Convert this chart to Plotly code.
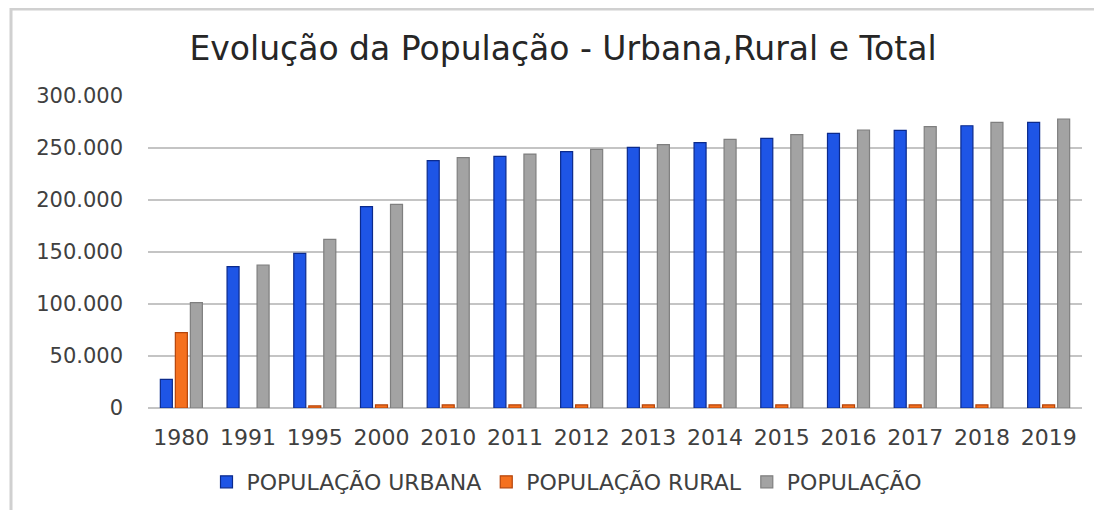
import plotly.graph_objects as go

anos = ["1980", "1991", "1995", "2000", "2010", "2011", "2012", "2013",
        "2014", "2015", "2016", "2017", "2018", "2019"]
pop_urbana = [27600, 136000, 148700, 193600, 237800, 242000, 246500, 250600,
              255100, 259300, 264100, 267000, 271400, 274700]
pop_rural = [72400, None, 2000, 3000, 3000, 3000, 3000, 3000,
             3000, 3000, 3000, 3000, 3000, 3000]
pop_total = [101300, 137500, 162200, 195800, 240700, 244200, 248700, 253200,
             258300, 262800, 267300, 270500, 274700, 277900]
y_ticks = [0, 50000, 100000, 150000, 200000, 250000, 300000]

FONT = "DejaVu Sans"
TXT = "#404040"

fig = go.Figure()
fig.add_trace(go.Bar(name="POPULAÇÃO URBANA", x=anos, y=pop_urbana,
                     marker=dict(color="#1E55E6", line=dict(color="#0B2A8C", width=1.2))))
fig.add_trace(go.Bar(name="POPULAÇÃO RURAL", x=anos, y=pop_rural,
                     marker=dict(color="#F5701E", line=dict(color="#B5440A", width=1.2))))
fig.add_trace(go.Bar(name="POPULAÇÃO", x=anos, y=pop_total,
                     marker=dict(color="#A3A3A3", line=dict(color="#7F7F7F", width=1.2))))

OFF = 8  # page body margin
W, H = 1102 - OFF, 510 - OFF
L, T = 148 - OFF, 96 - OFF
R = W - (1082 - OFF)
B = H - (408 - OFF)
pw, ph = W - L - R, H - T - B

fig.update_layout(
    width=W, height=H,
    margin=dict(l=L, r=R, t=T, b=B, autoexpand=False),
    paper_bgcolor="white", plot_bgcolor="white",
    barmode="group", bargap=0.325, bargroupgap=0.2,
    separators=",.",
    font=dict(family=FONT, color=TXT),
    title=dict(text="Evolução da População - Urbana,Rural e Total",
               x=(563 - OFF) / W, xref="container", xanchor="center",
               y=1 - (48 - OFF) / H, yref="container", yanchor="middle",
               font=dict(family=FONT, size=33, color="#262626")),
    showlegend=True,
    legend=dict(orientation="h", xref="container", yref="container",
                x=(567 - OFF) / W, xanchor="center", y=1 - (482 - OFF) / H, yanchor="middle",
                font=dict(family=FONT, size=22, color=TXT),
                itemwidth=30, traceorder="normal"),
    xaxis=dict(type="category", showgrid=False, showline=False,
               ticks="outside", ticklen=10, tickcolor="rgba(0,0,0,0)",
               tickfont=dict(family=FONT, size=22, color=TXT)),
    yaxis=dict(range=[0, 300000], tickvals=y_ticks, tickformat=",.0f",
               showgrid=True, gridcolor="#C4C4C4", gridwidth=2,
               zeroline=True, zerolinecolor="#C4C4C4", zerolinewidth=2,
               showline=False, ticklabelstandoff=24,
               tickfont=dict(family=FONT, size=21, color=TXT)),
)

fig.add_shape(type="rect", xref="paper", yref="paper",
              x0=(11 - 148) / pw, x1=1.2, y0=-0.6, y1=(408 - 9) / ph,
              line=dict(color="#D0D0D0", width=3), fillcolor="rgba(0,0,0,0)",
              layer="below")

fig.write_html("out.html")
